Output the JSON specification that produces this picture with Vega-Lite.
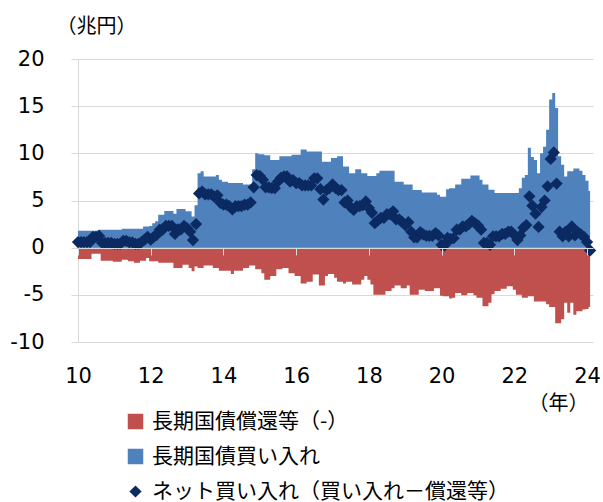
{
  "$schema": "https://vega.github.io/schema/vega-lite/v6.json",
  "width": 515,
  "height": 283,
  "autosize": "none",
  "padding": {"left": 78, "top": 59, "right": 10, "bottom": 160},
  "background": "white",
  "config": {
    "view": {"stroke": null},
    "axis": {"labelFont": "DejaVu Sans", "labelFontSize": 21, "labelColor": "#000", "titleFont": "Noto Sans CJK JP", "titleFontSize": 20, "titleFontWeight": "normal", "titleColor": "#000"}
  },
  "data": {"values": [
    {"d":"2010-01","buy":1.8,"red":-1.2,"net":0.6},
    {"d":"2010-02","buy":1.8,"red":-1.2,"net":0.6},
    {"d":"2010-03","buy":1.8,"red":-1.2,"net":0.6},
    {"d":"2010-04","buy":1.8,"red":-1.2,"net":0.6},
    {"d":"2010-05","buy":1.8,"red":-1.2,"net":0.6},
    {"d":"2010-06","buy":1.8,"red":-0.65,"net":1.15},
    {"d":"2010-07","buy":1.8,"red":-0.65,"net":1.15},
    {"d":"2010-08","buy":1.9,"red":-0.65,"net":1.25},
    {"d":"2010-09","buy":1.9,"red":-1.4,"net":0.5},
    {"d":"2010-10","buy":1.9,"red":-1.4,"net":0.5},
    {"d":"2010-11","buy":1.9,"red":-1.4,"net":0.5},
    {"d":"2010-12","buy":1.9,"red":-1.4,"net":0.5},
    {"d":"2011-01","buy":1.9,"red":-1.5,"net":0.4},
    {"d":"2011-02","buy":1.9,"red":-1.5,"net":0.4},
    {"d":"2011-03","buy":1.9,"red":-1.5,"net":0.4},
    {"d":"2011-04","buy":2.0,"red":-1.27,"net":0.73},
    {"d":"2011-05","buy":2.0,"red":-1.27,"net":0.73},
    {"d":"2011-06","buy":2.0,"red":-1.45,"net":0.55},
    {"d":"2011-07","buy":2.0,"red":-1.45,"net":0.55},
    {"d":"2011-08","buy":2.0,"red":-1.6,"net":0.4},
    {"d":"2011-09","buy":2.0,"red":-1.6,"net":0.4},
    {"d":"2011-10","buy":2.0,"red":-1.4,"net":0.6},
    {"d":"2011-11","buy":2.25,"red":-1.4,"net":0.85},
    {"d":"2011-12","buy":2.25,"red":-1.1,"net":1.15},
    {"d":"2012-01","buy":2.3,"red":-1.45,"net":0.85},
    {"d":"2012-02","buy":2.6,"red":-1.45,"net":1.15},
    {"d":"2012-03","buy":2.8,"red":-1.45,"net":1.35},
    {"d":"2012-04","buy":3.5,"red":-1.6,"net":1.9},
    {"d":"2012-05","buy":3.5,"red":-1.6,"net":1.9},
    {"d":"2012-06","buy":3.9,"red":-1.6,"net":2.3},
    {"d":"2012-07","buy":3.9,"red":-1.6,"net":2.3},
    {"d":"2012-08","buy":3.9,"red":-1.6,"net":2.3},
    {"d":"2012-09","buy":3.6,"red":-2.15,"net":1.45},
    {"d":"2012-10","buy":4.1,"red":-2.15,"net":1.95},
    {"d":"2012-11","buy":4.1,"red":-2.15,"net":1.95},
    {"d":"2012-12","buy":4.1,"red":-1.8,"net":2.3},
    {"d":"2013-01","buy":3.85,"red":-1.8,"net":2.05},
    {"d":"2013-02","buy":3.85,"red":-2.15,"net":1.7},
    {"d":"2013-03","buy":3.3,"red":-2.5,"net":0.8},
    {"d":"2013-04","buy":4.5,"red":-2.0,"net":2.5},
    {"d":"2013-05","buy":7.9,"red":-2.15,"net":5.75},
    {"d":"2013-06","buy":8.1,"red":-2.15,"net":5.95},
    {"d":"2013-07","buy":7.55,"red":-1.9,"net":5.65},
    {"d":"2013-08","buy":7.55,"red":-1.9,"net":5.65},
    {"d":"2013-09","buy":7.55,"red":-1.9,"net":5.65},
    {"d":"2013-10","buy":7.55,"red":-2.15,"net":5.4},
    {"d":"2013-11","buy":7.7,"red":-2.15,"net":5.55},
    {"d":"2013-12","buy":7.2,"red":-2.45,"net":4.75},
    {"d":"2014-01","buy":7.0,"red":-2.45,"net":4.55},
    {"d":"2014-02","buy":7.0,"red":-2.45,"net":4.55},
    {"d":"2014-03","buy":6.85,"red":-2.45,"net":4.4},
    {"d":"2014-04","buy":6.85,"red":-2.8,"net":4.05},
    {"d":"2014-05","buy":6.85,"red":-2.45,"net":4.4},
    {"d":"2014-06","buy":6.85,"red":-2.45,"net":4.4},
    {"d":"2014-07","buy":6.85,"red":-2.45,"net":4.4},
    {"d":"2014-08","buy":6.7,"red":-2.15,"net":4.55},
    {"d":"2014-09","buy":6.7,"red":-2.15,"net":4.55},
    {"d":"2014-10","buy":6.7,"red":-1.9,"net":4.8},
    {"d":"2014-11","buy":8.3,"red":-1.9,"net":6.4},
    {"d":"2014-12","buy":10.0,"red":-2.3,"net":7.7},
    {"d":"2015-01","buy":9.9,"red":-2.3,"net":7.6},
    {"d":"2015-02","buy":9.9,"red":-2.7,"net":7.2},
    {"d":"2015-03","buy":9.8,"red":-3.4,"net":6.4},
    {"d":"2015-04","buy":9.8,"red":-3.4,"net":6.4},
    {"d":"2015-05","buy":9.3,"red":-3.0,"net":6.3},
    {"d":"2015-06","buy":9.3,"red":-3.0,"net":6.3},
    {"d":"2015-07","buy":9.3,"red":-2.3,"net":7.0},
    {"d":"2015-08","buy":9.7,"red":-2.3,"net":7.4},
    {"d":"2015-09","buy":9.7,"red":-2.15,"net":7.55},
    {"d":"2015-10","buy":9.7,"red":-2.15,"net":7.55},
    {"d":"2015-11","buy":9.7,"red":-2.7,"net":7.0},
    {"d":"2015-12","buy":9.85,"red":-2.7,"net":7.15},
    {"d":"2016-01","buy":9.85,"red":-3.0,"net":6.85},
    {"d":"2016-02","buy":9.85,"red":-3.0,"net":6.85},
    {"d":"2016-03","buy":10.4,"red":-3.8,"net":6.6},
    {"d":"2016-04","buy":10.4,"red":-3.8,"net":6.6},
    {"d":"2016-05","buy":10.2,"red":-3.6,"net":6.6},
    {"d":"2016-06","buy":10.2,"red":-3.6,"net":6.6},
    {"d":"2016-07","buy":10.2,"red":-2.85,"net":7.35},
    {"d":"2016-08","buy":10.2,"red":-2.85,"net":7.35},
    {"d":"2016-09","buy":10.2,"red":-4.0,"net":6.2},
    {"d":"2016-10","buy":9.1,"red":-4.0,"net":5.1},
    {"d":"2016-11","buy":9.1,"red":-3.0,"net":6.1},
    {"d":"2016-12","buy":9.1,"red":-2.8,"net":6.3},
    {"d":"2017-01","buy":9.5,"red":-2.8,"net":6.7},
    {"d":"2017-02","buy":9.5,"red":-3.2,"net":6.3},
    {"d":"2017-03","buy":9.7,"red":-3.6,"net":6.1},
    {"d":"2017-04","buy":9.7,"red":-3.6,"net":6.1},
    {"d":"2017-05","buy":8.6,"red":-3.8,"net":4.8},
    {"d":"2017-06","buy":8.6,"red":-3.6,"net":5.0},
    {"d":"2017-07","buy":7.9,"red":-3.6,"net":4.3},
    {"d":"2017-08","buy":7.9,"red":-3.9,"net":4.0},
    {"d":"2017-09","buy":8.3,"red":-3.9,"net":4.4},
    {"d":"2017-10","buy":8.3,"red":-3.9,"net":4.4},
    {"d":"2017-11","buy":7.9,"red":-3.4,"net":4.5},
    {"d":"2017-12","buy":7.9,"red":-3.0,"net":4.9},
    {"d":"2018-01","buy":7.6,"red":-3.4,"net":4.2},
    {"d":"2018-02","buy":7.6,"red":-3.9,"net":3.7},
    {"d":"2018-03","buy":7.6,"red":-5.0,"net":2.6},
    {"d":"2018-04","buy":7.9,"red":-5.0,"net":2.9},
    {"d":"2018-05","buy":8.15,"red":-5.0,"net":3.15},
    {"d":"2018-06","buy":8.15,"red":-5.0,"net":3.15},
    {"d":"2018-07","buy":8.15,"red":-4.6,"net":3.55},
    {"d":"2018-08","buy":8.15,"red":-4.6,"net":3.55},
    {"d":"2018-09","buy":8.15,"red":-4.3,"net":3.85},
    {"d":"2018-10","buy":7.0,"red":-4.0,"net":3.0},
    {"d":"2018-11","buy":7.0,"red":-4.0,"net":3.0},
    {"d":"2018-12","buy":7.0,"red":-4.3,"net":2.7},
    {"d":"2019-01","buy":6.7,"red":-4.3,"net":2.4},
    {"d":"2019-02","buy":6.7,"red":-4.0,"net":2.7},
    {"d":"2019-03","buy":6.7,"red":-5.0,"net":1.7},
    {"d":"2019-04","buy":6.1,"red":-5.0,"net":1.1},
    {"d":"2019-05","buy":6.1,"red":-5.0,"net":1.1},
    {"d":"2019-06","buy":6.1,"red":-4.45,"net":1.65},
    {"d":"2019-07","buy":5.85,"red":-4.45,"net":1.4},
    {"d":"2019-08","buy":5.85,"red":-4.6,"net":1.25},
    {"d":"2019-09","buy":5.85,"red":-4.6,"net":1.25},
    {"d":"2019-10","buy":5.85,"red":-4.6,"net":1.25},
    {"d":"2019-11","buy":5.85,"red":-4.3,"net":1.55},
    {"d":"2019-12","buy":5.6,"red":-4.3,"net":1.3},
    {"d":"2020-01","buy":5.4,"red":-5.1,"net":0.3},
    {"d":"2020-02","buy":5.4,"red":-5.15,"net":0.25},
    {"d":"2020-03","buy":6.2,"red":-5.15,"net":1.05},
    {"d":"2020-04","buy":6.3,"red":-5.4,"net":0.9},
    {"d":"2020-05","buy":6.3,"red":-5.3,"net":1.0},
    {"d":"2020-06","buy":6.7,"red":-4.8,"net":1.9},
    {"d":"2020-07","buy":6.7,"red":-4.8,"net":1.9},
    {"d":"2020-08","buy":7.3,"red":-5.05,"net":2.25},
    {"d":"2020-09","buy":7.3,"red":-5.05,"net":2.25},
    {"d":"2020-10","buy":7.3,"red":-4.8,"net":2.5},
    {"d":"2020-11","buy":7.65,"red":-4.8,"net":2.85},
    {"d":"2020-12","buy":7.65,"red":-5.05,"net":2.6},
    {"d":"2021-01","buy":7.65,"red":-5.3,"net":2.35},
    {"d":"2021-02","buy":7.2,"red":-5.3,"net":1.9},
    {"d":"2021-03","buy":6.7,"red":-6.2,"net":0.5},
    {"d":"2021-04","buy":6.7,"red":-6.2,"net":0.5},
    {"d":"2021-05","buy":6.15,"red":-5.85,"net":0.3},
    {"d":"2021-06","buy":6.15,"red":-4.95,"net":1.2},
    {"d":"2021-07","buy":5.8,"red":-4.6,"net":1.2},
    {"d":"2021-08","buy":5.8,"red":-4.6,"net":1.2},
    {"d":"2021-09","buy":5.8,"red":-4.35,"net":1.45},
    {"d":"2021-10","buy":5.8,"red":-4.35,"net":1.45},
    {"d":"2021-11","buy":5.8,"red":-4.1,"net":1.7},
    {"d":"2021-12","buy":5.8,"red":-4.1,"net":1.7},
    {"d":"2022-01","buy":5.8,"red":-4.45,"net":1.35},
    {"d":"2022-02","buy":5.8,"red":-5.0,"net":0.8},
    {"d":"2022-03","buy":6.3,"red":-5.0,"net":1.3},
    {"d":"2022-04","buy":7.4,"red":-5.3,"net":2.1},
    {"d":"2022-05","buy":7.7,"red":-5.3,"net":2.4},
    {"d":"2022-06","buy":10.6,"red":-5.15,"net":5.45},
    {"d":"2022-07","buy":9.6,"red":-5.15,"net":4.45},
    {"d":"2022-08","buy":9.3,"red":-5.7,"net":3.6},
    {"d":"2022-09","buy":7.9,"red":-5.7,"net":2.2},
    {"d":"2022-10","buy":10.0,"red":-5.7,"net":4.3},
    {"d":"2022-11","buy":10.7,"red":-5.7,"net":5.0},
    {"d":"2022-12","buy":12.5,"red":-6.0,"net":6.5},
    {"d":"2023-01","buy":15.7,"red":-6.3,"net":9.4},
    {"d":"2023-02","buy":16.4,"red":-6.3,"net":10.1},
    {"d":"2023-03","buy":14.8,"red":-8.0,"net":6.8},
    {"d":"2023-04","buy":9.7,"red":-8.0,"net":1.7},
    {"d":"2023-05","buy":8.8,"red":-7.6,"net":1.2},
    {"d":"2023-06","buy":7.55,"red":-5.85,"net":1.7},
    {"d":"2023-07","buy":8.1,"red":-6.9,"net":1.2},
    {"d":"2023-08","buy":8.1,"red":-5.85,"net":2.25},
    {"d":"2023-09","buy":8.4,"red":-7.1,"net":1.3},
    {"d":"2023-10","buy":8.4,"red":-6.75,"net":1.65},
    {"d":"2023-11","buy":8.15,"red":-6.75,"net":1.4},
    {"d":"2023-12","buy":7.7,"red":-6.55,"net":1.15},
    {"d":"2024-01","buy":7.1,"red":-6.5,"net":0.6},
    {"d":"2024-02","buy":6.0,"red":-6.3,"net":-0.3}
  ]},
  "transform": [{"fold": ["red", "buy", "net"], "as": ["key", "value"]}],
  "layer": [
    {
      "transform": [{"filter": "datum.key !== 'net'"}],
      "mark": {"type": "area", "interpolate": "step", "timeUnitBandPosition": 0.5, "opacity": 1},
      "encoding": {
        "x": {
          "field": "d", "type": "temporal", "timeUnit": "utcyearmonth",
          "scale": {"type": "utc", "domain": [{"year": 2010, "month": 1, "date": 1, "utc": true}, {"year": 2024, "month": 3, "date": 1, "utc": true}]},
          "axis": {
            "values": [
              {"year": 2010, "month": 1, "date": 1, "utc": true},
              {"year": 2012, "month": 1, "date": 1, "utc": true},
              {"year": 2014, "month": 1, "date": 1, "utc": true},
              {"year": 2016, "month": 1, "date": 1, "utc": true},
              {"year": 2018, "month": 1, "date": 1, "utc": true},
              {"year": 2020, "month": 1, "date": 1, "utc": true},
              {"year": 2022, "month": 1, "date": 1, "utc": true},
              {"year": 2024, "month": 1, "date": 1, "utc": true}
            ],
            "format": "%y", "offset": -94, "tickSize": 7, "labelPadding": 110,
            "domainColor": "#D9D9D9", "tickColor": "#D9D9D9", "grid": false,
            "labelFlush": false, "labelOverlap": false, "zindex": 1,
            "title": "（年）", "titleX": 480, "titleY": 155, "titleAlign": "center", "titleBaseline": "middle"
          }
        },
        "y": {
          "field": "value", "type": "quantitative", "stack": null,
          "scale": {"domain": [-10, 20], "nice": false},
          "axis": {
            "values": [-10, -5, 0, 5, 10, 15, 20],
            "labelExpr": "'' + datum.value",
            "grid": true, "gridColor": "#D9D9D9", "domainColor": "#D9D9D9", "tickColor": "#D9D9D9",
            "tickSize": 7, "labelPadding": 27,
            "title": "（兆円）", "titleAngle": 0, "titleX": 18, "titleY": -33, "titleAlign": "center", "titleBaseline": "middle"
          }
        },
        "color": {
          "field": "key", "type": "nominal",
          "scale": {"domain": ["red", "buy", "net"], "range": ["#C0504D", "#4F81BD", "#0C2A62"]},
          "legend": {
            "title": null, "orient": "none", "legendX": 47, "legendY": 352, "direction": "vertical",
            "labelExpr": "datum.value === 'red' ? '長期国債償還等（-）' : datum.value === 'buy' ? '長期国債買い入れ' : 'ネット買い入れ（買い入れ－償還等）'",
            "labelFont": "Noto Sans CJK JP", "labelFontSize": 21, "labelColor": "#000",
            "rowPadding": 13, "labelOffset": 6, "symbolStrokeWidth": 0, "padding": 0, "labelLimit": 500
          }
        }
      }
    },
    {
      "transform": [{"filter": "datum.key === 'net'"}],
      "mark": {"type": "point", "filled": true, "opacity": 1, "strokeWidth": 0, "timeUnitBandPosition": 0.5},
      "encoding": {
        "x": {"field": "d", "type": "temporal", "timeUnit": "utcyearmonth"},
        "y": {"field": "value", "type": "quantitative"},
        "color": {"field": "key", "type": "nominal"},
        "shape": {
          "field": "key", "type": "nominal",
          "scale": {"domain": ["red", "buy", "net"], "range": ["square", "square", "diamond"]},
          "legend": {"title": null}
        },
        "size": {
          "field": "key", "type": "nominal",
          "scale": {"type": "ordinal", "domain": ["red", "buy", "net"], "range": [240, 240, 150]},
          "legend": {"title": null}
        }
      }
    }
  ]
}
